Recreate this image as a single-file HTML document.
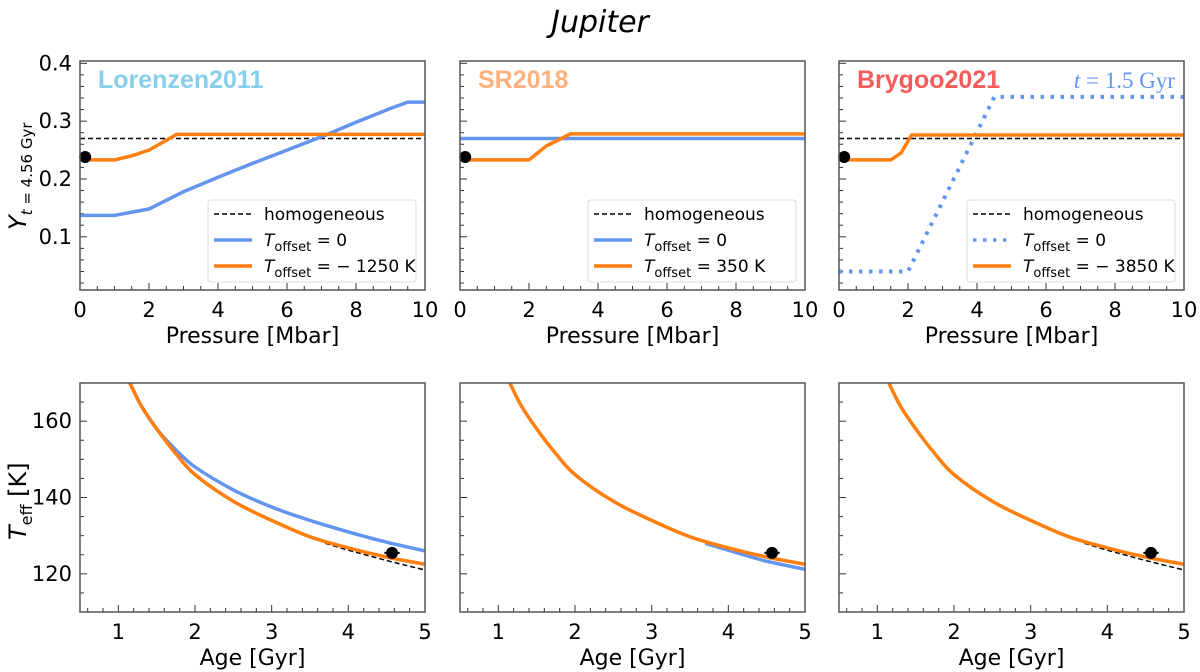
<!DOCTYPE html>
<html><head><meta charset="utf-8"><style>
body{margin:0;background:#fff;}
svg{display:block;font-family:"DejaVu Sans","Liberation Sans",sans-serif;}
</style></head><body>
<svg id="c" width="1200" height="672" viewBox="0 0 1200 672">
<text x="600" y="32" text-anchor="middle" font-size="30" font-style="italic">Jupiter</text>
</svg>
<script>
const NS='http://www.w3.org/2000/svg';
const svg=document.getElementById('c');
// ---- data ----
const pTicks=[0,2,4,6,8,10];
const yTicks=[0.1,0.2,0.3,0.4];
const ageTicks=[1,2,3,4,5];
const tTicks=[120,140,160];
const homogY=0.27;
const obsY=[0.15,0.238];
const p1BlueP=[0,1,2,3,4,5,6,7,8,9,9.5,10];
const p1BlueY=[0.137,0.137,0.148,0.178,0.203,0.227,0.25,0.273,0.298,0.322,0.333,0.333];
const p1OrP=[0,1,1.5,2,2.8,10];
const p1OrY=[0.233,0.233,0.24,0.25,0.277,0.277];
const p2BlueP=[0,10];
const p2BlueY=[0.27,0.27];
const p2OrP=[0,2,2.5,3.2,10];
const p2OrY=[0.233,0.233,0.257,0.278,0.278];
const p3BlueP=[0,2,4.5,10];
const p3BlueY=[0.04,0.04,0.342,0.342];
const p3OrP=[0,1.5,1.8,2.1,10];
const p3OrY=[0.233,0.233,0.245,0.276,0.276];
const ageA=[1.15,1.3,1.5,1.75,2,2.5,3,3.5,4,4.5,5];
const orT=[170,164,158,151.5,146,139,134,129.7,126.8,124.4,122.5];
const blueT1=[170,164,158,152.5,148,142,137.5,134,131,128.3,126];
const blueT2A=[3.7,4,4.5,5];
const blueT2=[128,126.2,123.3,121.2];
const dashA=[3.7,4,4.5,5];
const dashT=[128,126.2,123.5,121];
const obsT=[4.57,125.5];
// ---- layout ----
const cols=[[80,425],[460,805],[839,1184]];
const topRow=[61,290], botRow=[383,612];
function el(t,a,parent){const e=document.createElementNS(NS,t);for(const k in a)e.setAttribute(k,a[k]);(parent||svg).appendChild(e);return e;}
function txt(x,y,s,a,parent){const e=el('text',Object.assign({x:x,y:y},a),parent);e.innerHTML=s;return e;}
function axes(ci,row,xmin,xmax,ymin,ymax,xt,yt,xminor,yminor,showY,xlabel,name){
  const [x0,x1]=cols[ci];const [y0,y1]=row;
  const g=el('g',{});
  
  
  const X=v=>x0+(v-xmin)/(xmax-xmin)*(x1-x0);
  const Y=v=>y1-(v-ymin)/(ymax-ymin)*(y1-y0);
  for(let v=Math.ceil(xmin/xminor)*xminor;v<=xmax+1e-9;v+=xminor){const L=xt.some(t=>Math.abs(t-v)<1e-6)?7:4;el('line',{x1:X(v),x2:X(v),y1:y1,y2:y1-L,stroke:'#333','stroke-width':1},g);}
  for(let v=Math.ceil(ymin/yminor)*yminor;v<=ymax+1e-9;v+=yminor){const L=yt.some(t=>Math.abs(t-v)<1e-6)?7:4;el('line',{x1:x0,x2:x0+L,y1:Y(v),y2:Y(v),stroke:'#333','stroke-width':1},g);}
  xt.forEach(v=>{const t=txt(X(v),y1+27,String(v),{'text-anchor':'middle','font-size':21},g);});
  if(showY)yt.forEach(v=>{const t=txt(x0-8,Y(v)+7,String(v),{'text-anchor':'end','font-size':21},g);});
  const xl=txt((x0+x1)/2,y1+53,xlabel,{'text-anchor':'middle','font-size':22},g);
  
  const clip='clip'+ci+'_'+row[0];
  const cp=el('clipPath',{id:clip},g);el('rect',{x:x0,y:y0,width:x1-x0,height:y1-y0},cp);
  const plot=el('g',{'clip-path':'url(#'+clip+')'},g);
  return {X,Y,g,plot,frame:()=>el('rect',{x:x0,y:y0,width:x1-x0,height:y1-y0,fill:'none',stroke:'#555','stroke-width':1.5},g)};
}
function line(ax,xs,ys,stroke,w,dash,name,smooth){
  const P=xs.map((v,i)=>[ax.X(v),ax.Y(ys[i])]);
  let d='M'+P[0][0].toFixed(1)+' '+P[0][1].toFixed(1);
  for(let i=1;i<P.length;i++){
    if(smooth){const p0=P[Math.max(i-2,0)],p1=P[i-1],p2=P[i],p3=P[Math.min(i+1,P.length-1)];
      const c1=[p1[0]+(p2[0]-p0[0])/6,p1[1]+(p2[1]-p0[1])/6],c2=[p2[0]-(p3[0]-p1[0])/6,p2[1]-(p3[1]-p1[1])/6];
      d+=' C'+c1[0].toFixed(1)+' '+c1[1].toFixed(1)+' '+c2[0].toFixed(1)+' '+c2[1].toFixed(1)+' '+p2[0].toFixed(1)+' '+p2[1].toFixed(1);}
    else d+=' L'+P[i][0].toFixed(1)+' '+P[i][1].toFixed(1);
  }
  const p=el('path',{d:d,fill:'none',stroke:stroke,'stroke-width':w,'stroke-linejoin':'round'},ax.plot);
  if(dash)p.setAttribute('stroke-dasharray',dash);
  
  
}
function dot(ax,x,y,name,err){
  if(err){el('line',{x1:ax.X(x-err),x2:ax.X(x+err),y1:ax.Y(y),y2:ax.Y(y),stroke:'#000','stroke-width':2},ax.g);}
  const c=el('circle',{cx:ax.X(x),cy:ax.Y(y),r:6,fill:'#000'},ax.g);
  
  
}
function legend(x,items,name){
  const g=el('g',{});
  
  
  el('rect',{x:x,y:200,width:208,height:82,rx:3,fill:'#fff',stroke:'#ddd','stroke-width':1},g);
  items.forEach((it,i)=>{const y=214+i*26;
    const l=el('line',{x1:x+6,x2:x+44,y1:y,y2:y,stroke:it[0],'stroke-width':it[1]},g);
    if(it[2])l.setAttribute('stroke-dasharray',it[2]);
    const t=txt(x+56,y+6,it[3],{'font-size':17},g);
    });
}
const BLUE='#6495ed',OR='#ff7f0e';
const toff=v=>'<tspan font-style="italic">T</tspan><tspan font-size="13" dy="5">offset</tspan><tspan dy="-5"> = '+v+'</tspan>';
const names=['Lorenzen2011','SR2018','Brygoo2021'],ncol=['#87ceeb','#ffb07c','#f45b5b'];
const tb=[[p1BlueP,p1BlueY,null],[p2BlueP,p2BlueY,null],[p3BlueP,p3BlueY,'3.5 6.5']];
const to=[[p1OrP,p1OrY],[p2OrP,p2OrY],[p3OrP,p3OrY]];
const offs=['− 1250 K','350 K','− 3850 K'];
const legX=[208,588,967];
for(let i=0;i<3;i++){
  const ax=axes(i,topRow,0,10,0.008,0.404,pTicks,yTicks,0.5,0.02,i===0,'Pressure [Mbar]','pressure-panel-'+(i+1));
  line(ax,[0,10],[homogY,homogY],'#000',1.5,'5 3','homogeneous-line');
  line(ax,tb[i][0],tb[i][1],BLUE,tb[i][2]?4:3.5,tb[i][2],'toffset-0-line');
  line(ax,to[i][0],to[i][1],OR,3.5,null,'toffset-line');
  dot(ax,obsY[0],obsY[1],'observed-helium');
  ax.frame();
  const lb=txt(cols[i][0]+18,88,names[i],{'font-size':25,'font-weight':'bold',fill:ncol[i],'font-family':'Liberation Sans, sans-serif'});
  
  legend(legX[i],[['#000',1.5,'5 3','homogeneous'],[BLUE,3.5,i===2?'3.5 6.5':null,toff('0')],[OR,3.5,null,toff(offs[i])]],'legend-'+(i+1));
}
const tl=txt(1175,88,'<tspan font-style="italic">t</tspan> = 1.5 Gyr',{'font-size':23,'text-anchor':'end',fill:BLUE,'font-family':'Liberation Serif, serif'});

const yt=txt(0,0,'<tspan font-style="italic">Y</tspan><tspan font-size="15" dy="6"><tspan font-style="italic">t</tspan> = 4.56 Gyr</tspan>',{'font-size':24,transform:'translate(26,230) rotate(-90)'});

for(let i=0;i<3;i++){
  const ax=axes(i,botRow,0.5,5,110,170,ageTicks,tTicks,0.2,5,i===0,'Age [Gyr]','age-panel-'+(i+1));
  line(ax,dashA,dashT,'#000',1.5,'5 3','homogeneous-line',true);
  if(i===0)line(ax,ageA,blueT1,BLUE,3.5,null,'toffset-0-line',true);
  if(i===1)line(ax,blueT2A,blueT2,BLUE,3.5,null,'toffset-0-line',true);
  line(ax,ageA,orT,OR,3.5,null,'toffset-line',true);
  dot(ax,obsT[0],obsT[1],'observed-teff',0.1);
  ax.frame();
}
const yb=txt(0,0,'<tspan font-style="italic">T</tspan><tspan font-size="16" dy="6">eff</tspan><tspan dy="-6"> [K]</tspan>',{'font-size':24,transform:'translate(26,540) rotate(-90)'});

</script>
</body></html>
